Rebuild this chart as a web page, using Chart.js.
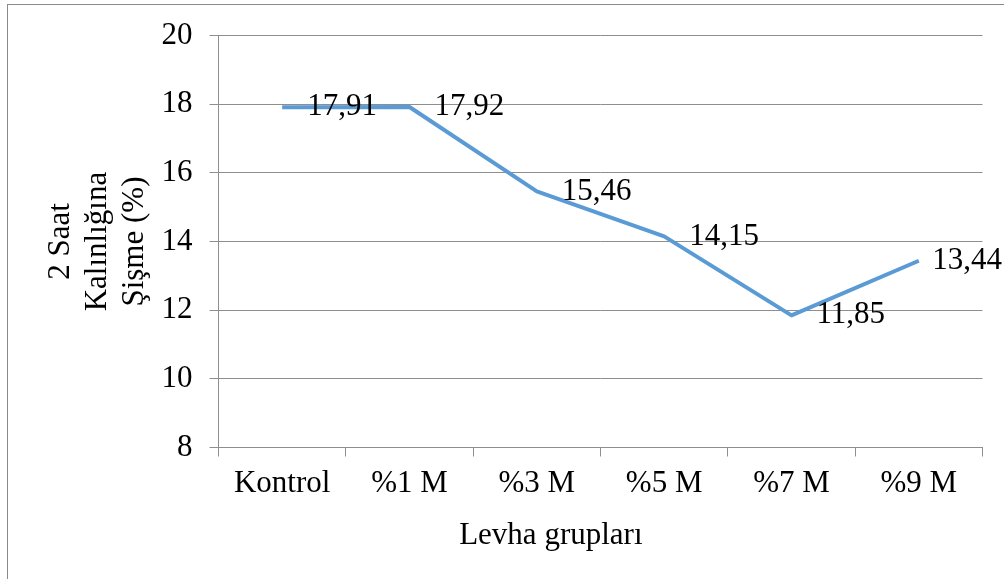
<!DOCTYPE html>
<html lang="tr">
<head>
<meta charset="utf-8">
<title>2 Saat Kalınlığına Şişme (%)</title>
<script src="https://cdn.jsdelivr.net/npm/chart.js@4/dist/chart.umd.min.js"></script>
<style>
  html, body { margin: 0; padding: 0; background: #ffffff; overflow: hidden; }
  #wrap { position: relative; width: 1004px; height: 579px; }
</style>
</head>
<body>
<div id="wrap"><canvas id="chart" width="1004" height="579"></canvas></div>
<script>
// Board groups and their 2-hour thickness swelling (%)
const groups = ['Kontrol', '%1 M', '%3 M', '%5 M', '%7 M', '%9 M'];
const swelling = [17.91, 17.92, 15.46, 14.15, 11.85, 13.44];
const yTicks = [8, 10, 12, 14, 16, 18, 20];

const yTitle = ['2 Saat', 'Kalınlığına', 'Şişme (%)'];
const xTitle = 'Levha grupları';

const FONT = '"Liberation Serif", "Times New Roman", serif';
const GRID = '#8e8e8e';

// Outer frame of the chart object
const framePlugin = {
  id: 'frame',
  beforeDraw(chart) {
    const ctx = chart.ctx;
    ctx.save();
    ctx.fillStyle = '#ffffff';
    ctx.fillRect(0, 0, chart.width, chart.height);
    ctx.strokeStyle = '#8a8a8a';
    ctx.lineWidth = 1;
    ctx.strokeRect(7.5, 4.5, 2000, 2000);
    ctx.restore();
  }
};

// Horizontal axis title, set a little left of the plot centre
const xTitlePlugin = {
  id: 'xTitle',
  afterDraw(chart) {
    const ctx = chart.ctx;
    const area = chart.chartArea;
    ctx.save();
    ctx.font = '31px ' + FONT;
    ctx.fillStyle = '#000000';
    ctx.textAlign = 'center';
    ctx.textBaseline = 'middle';
    ctx.fillText(xTitle, area.left + (area.right - area.left) * 0.435, chart.height - 43.5);
    ctx.restore();
  }
};

// Value labels to the right of each point, decimal comma
const valueLabels = {
  id: 'valueLabels',
  afterDatasetsDraw(chart) {
    const ctx = chart.ctx;
    const meta = chart.getDatasetMeta(0);
    const values = chart.data.datasets[0].data;
    ctx.save();
    ctx.font = '31px ' + FONT;
    ctx.fillStyle = '#000000';
    ctx.textAlign = 'left';
    ctx.textBaseline = 'middle';
    meta.data.forEach((pt, i) => {
      const text = values[i].toFixed(2).replace('.', ',');
      const w = ctx.measureText(text).width;
      const x = Math.min(pt.x + 25, chart.width - w - 2);
      ctx.fillText(text, x, pt.y);
    });
    ctx.restore();
  }
};

new Chart(document.getElementById('chart'), {
  type: 'line',
  data: {
    labels: groups,
    datasets: [{
      data: swelling,
      borderColor: '#5b9bd5',
      borderWidth: 4,
      tension: 0,
      pointRadius: 0,
      pointHoverRadius: 0,
      borderJoinStyle: 'round',
      borderCapStyle: 'butt',
      fill: false
    }]
  },
  options: {
    responsive: false,
    animation: false,
    events: [],
    layout: { padding: { top: 35, right: 21.5, bottom: 0, left: 0 } },
    plugins: {
      legend: { display: false },
      tooltip: { enabled: false }
    },
    scales: {
      x: {
        type: 'category',
        offset: true,
        grid: {
          offset: true,
          drawOnChartArea: false,
          drawTicks: true,
          tickLength: 9,
          color: GRID,
          lineWidth: 1
        },
        border: { display: true, color: GRID, width: 1 },
        ticks: {
          color: '#000000',
          font: { family: FONT, size: 31 },
          padding: 9,
          maxRotation: 0,
          autoSkip: false
        },
        title: { display: false },
        afterFit(scale) { scale.height = 131.5; }
      },
      y: {
        min: 8,
        max: 20,
        afterBuildTicks(scale) { scale.ticks = yTicks.map(v => ({ value: v })); },
        grid: {
          drawOnChartArea: true,
          drawTicks: true,
          tickLength: 9,
          color: GRID,
          lineWidth: 1
        },
        border: { display: true, color: GRID, width: 1 },
        ticks: {
          color: '#000000',
          font: { family: FONT, size: 31 },
          padding: 17
        },
        title: {
          display: true,
          text: yTitle,
          color: '#000000',
          font: { family: FONT, size: 31 },
          padding: { top: 42, bottom: 0 }
        },
        afterFit(scale) { scale.width = 218.5; }
      }
    }
  },
  plugins: [framePlugin, valueLabels, xTitlePlugin]
});
</script>
</body>
</html>
